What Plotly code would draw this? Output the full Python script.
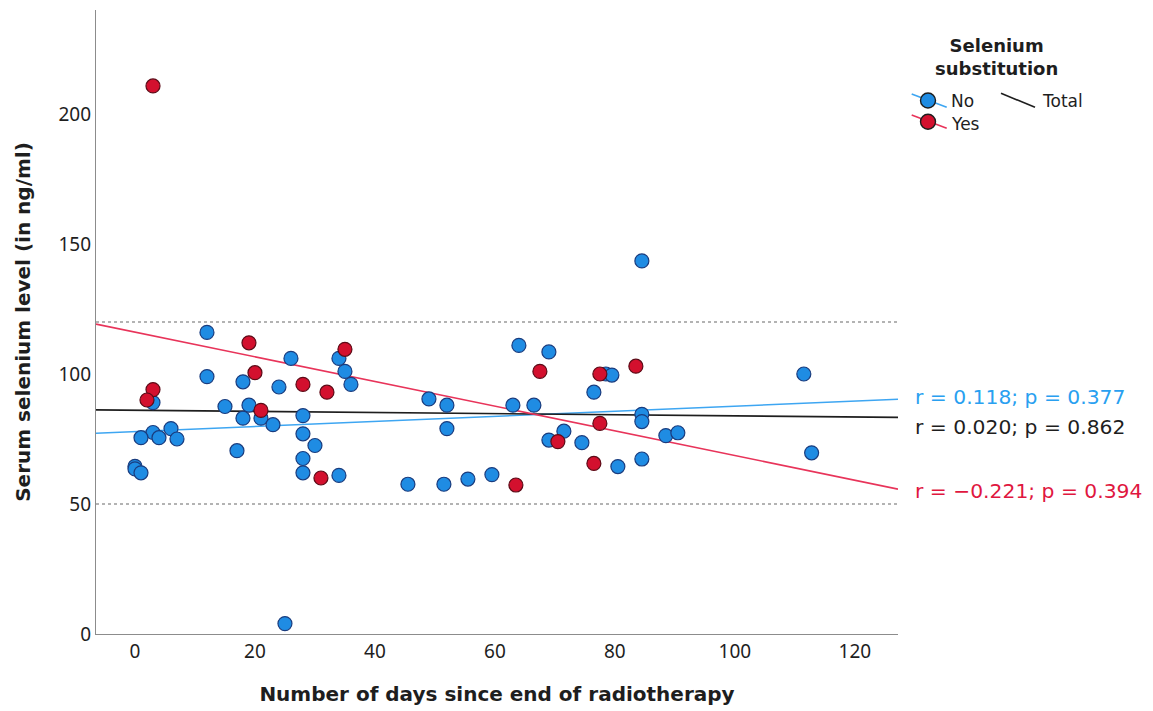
import plotly.graph_objects as go

# ---------------- data ----------------
no_days = [12, 26, 34, 35, 36, 12, 18, 24, 3, 15, 19, 18, 21, 28, 23, 28, 30, 6, 3, 4, 1, 7, 17,
           0, 0, 1, 28, 28, 34, 25, 64, 69, 78.5, 79.5, 76.5, 49, 52, 63, 66.5, 84.5, 84.5, 52,
           71.5, 69, 74.5, 88.5, 90.5, 80.5, 84.5, 45.5, 51.5, 55.5, 59.5, 111.5, 112.8, 84.5]
no_vals = [116, 106, 106, 101, 96, 99, 97, 95, 89, 87.5, 88, 83, 83, 84, 80.5, 77, 72.5, 79, 77.5,
           75.5, 75.5, 75, 70.5, 64.5, 63.5, 62, 67.5, 62, 61, 4, 111, 108.5, 100, 99.6, 93, 90.4,
           88, 88, 88, 84.5, 81.7, 79, 78, 74.6, 73.6, 76.3, 77.4, 64.4, 67.3, 57.6, 57.6, 59.6,
           61.3, 100, 69.7, 143.5]

yes_days = [3, 19, 35, 20, 28, 32, 3, 2, 21, 31, 67.5, 77.5, 83.5, 77.5, 70.5, 76.5, 63.5]
yes_vals = [210.8, 112, 109.5, 100.5, 96, 93, 94, 90, 86, 60, 101, 100, 103, 81, 74, 65.6, 57.3]

# fit lines (intercept, slope)
fit_groups = ["No", "Total", "Yes"]
fit_intercepts = [77.84, 86.06, 116.1]
fit_slopes = [0.0978, -0.0216, -0.4746]
fit_labels = ["r = 0.118; p = 0.377", "r = 0.020; p = 0.862", "r = \u22120.221; p = 0.394"]

ref_levels = [50, 120]

x_range = [-6.5, 127.2]
y_range = [0, 240]
x_ticks = [0, 20, 40, 60, 80, 100, 120]
y_ticks = [0, 50, 100, 150, 200]

# ---------------- styles ----------------
BLUE_FILL, BLUE_EDGE, BLUE_LINE, BLUE_TXT = "#1f8ce3", "#1a3c7e", "#3ea6f2", "#29a0f0"
RED_FILL, RED_EDGE, RED_LINE, RED_TXT = "#d3102e", "#5c0b17", "#e8345a", "#e0173f"
BLACK = "#1e1e1e"
FONT = "DejaVu Sans"
TICKFONT = "Noto Sans"

line_colors = {"No": BLUE_LINE, "Total": BLACK, "Yes": RED_LINE}
text_colors = {"No": BLUE_TXT, "Total": BLACK, "Yes": RED_TXT}

OFF = 8  # page body margin
W, H = 1153 - OFF, 711 - OFF
ML, MR, MT, MB = 96 - OFF, 3, 10 - OFF, 77
PW, PH = W - ML - MR, H - MT - MB


def px(sx):  # screenshot x -> paper x
    return (sx - OFF - ML) / PW


def py(sy):  # screenshot y -> paper y
    return (MT + PH - (sy - OFF)) / PH


x_dom_end = px(898)

fig = go.Figure()

# reference lines
for lv in ref_levels:
    fig.add_trace(go.Scatter(x=x_range, y=[lv, lv], mode="lines",
                             line=dict(color="#9a9a9a", width=1.5, dash="dot"),
                             hoverinfo="skip", showlegend=False))

# fit lines
for g, b0, b1 in zip(fit_groups, fit_intercepts, fit_slopes):
    fig.add_trace(go.Scatter(x=x_range, y=[b0 + b1 * x for x in x_range], mode="lines",
                             line=dict(color=line_colors[g], width=1.6),
                             hoverinfo="skip", showlegend=False))

# points
fig.add_trace(go.Scatter(x=no_days, y=no_vals, mode="markers", name="No",
                         marker=dict(size=14, color=BLUE_FILL, line=dict(color=BLUE_EDGE, width=1.2)),
                         showlegend=False))
fig.add_trace(go.Scatter(x=yes_days, y=yes_vals, mode="markers", name="Yes",
                         marker=dict(size=14, color=RED_FILL, line=dict(color=RED_EDGE, width=1.2)),
                         showlegend=False))

# fit labels at right
label_y_px = {"No": 397, "Total": 427, "Yes": 491}
for g, lab in zip(fit_groups, fit_labels):
    fig.add_annotation(xref="paper", yref="paper", x=px(913), y=py(label_y_px[g]),
                       xanchor="left", yanchor="middle", text=lab, showarrow=False,
                       font=dict(family=FONT, size=20.3, color=text_colors[g]))

# ---------------- manual legend (pixel-based helper axes, screenshot px) ----------------
lx0, lx1, ly0, ly1 = 900, 1150, 15, 145
fig.add_trace(go.Scatter(x=[911.7, 946.7], y=[94, 107.3], mode="lines",
                         line=dict(color=BLUE_LINE, width=1.6), xaxis="x2", yaxis="y2",
                         showlegend=False, hoverinfo="skip"))
fig.add_trace(go.Scatter(x=[911.7, 946.7], y=[115, 128.3], mode="lines",
                         line=dict(color=RED_LINE, width=1.6), xaxis="x2", yaxis="y2",
                         showlegend=False, hoverinfo="skip"))
fig.add_trace(go.Scatter(x=[1001, 1035], y=[93.3, 107.3], mode="lines",
                         line=dict(color=BLACK, width=1.6), xaxis="x2", yaxis="y2",
                         showlegend=False, hoverinfo="skip"))
fig.add_trace(go.Scatter(x=[928], y=[100.5], mode="markers",
                         marker=dict(size=15, color=BLUE_FILL, line=dict(color=BLACK, width=1.4)),
                         xaxis="x2", yaxis="y2", showlegend=False, hoverinfo="skip"))
fig.add_trace(go.Scatter(x=[928], y=[121.7], mode="markers",
                         marker=dict(size=15, color=RED_FILL, line=dict(color=BLACK, width=1.4)),
                         xaxis="x2", yaxis="y2", showlegend=False, hoverinfo="skip"))
for tx, ty, t in [(949, 101, "No"), (949, 124, "Yes"), (1040, 101, "Total")]:
    fig.add_annotation(xref="x2", yref="y2", x=tx, y=ty, text=t, showarrow=False,
                       xanchor="left", yanchor="middle",
                       font=dict(family=FONT, size=17, color=BLACK))
fig.add_annotation(xref="x2", yref="y2", x=996, y=57, text="<b>Selenium<br>substitution</b>",
                   showarrow=False, xanchor="center", yanchor="middle", align="center",
                   font=dict(family=FONT, size=18, color=BLACK))

axis_common = dict(showgrid=False, zeroline=False, ticks="",
                   tickfont=dict(family=TICKFONT, size=19, color=BLACK),
                   showline=True, linecolor="#8c8c8c", linewidth=1.2)

fig.update_layout(
    width=W, height=H,
    margin=dict(l=ML, r=MR, t=MT, b=MB),
    paper_bgcolor="white", plot_bgcolor="white",
    font=dict(family=FONT, color=BLACK),
    xaxis=dict(range=x_range, tickvals=x_ticks, domain=[0, x_dom_end],
               title=dict(text="<b>Number of days since end of radiotherapy</b>",
                          font=dict(family=FONT, size=20, color=BLACK), standoff=24),
               **axis_common),
    yaxis=dict(range=y_range, tickvals=y_ticks,
               title=dict(text="<b>Serum selenium level (in ng/ml)</b>",
                          font=dict(family=FONT, size=20, color=BLACK), standoff=22),
               **axis_common),
    xaxis2=dict(domain=[px(lx0), px(lx1)], range=[lx0, lx1],
                visible=False, anchor="y2", fixedrange=True),
    yaxis2=dict(domain=[py(ly1), py(ly0)], range=[ly1, ly0],
                visible=False, anchor="x2", fixedrange=True),
    showlegend=False,
)

fig.write_html("out.html")
